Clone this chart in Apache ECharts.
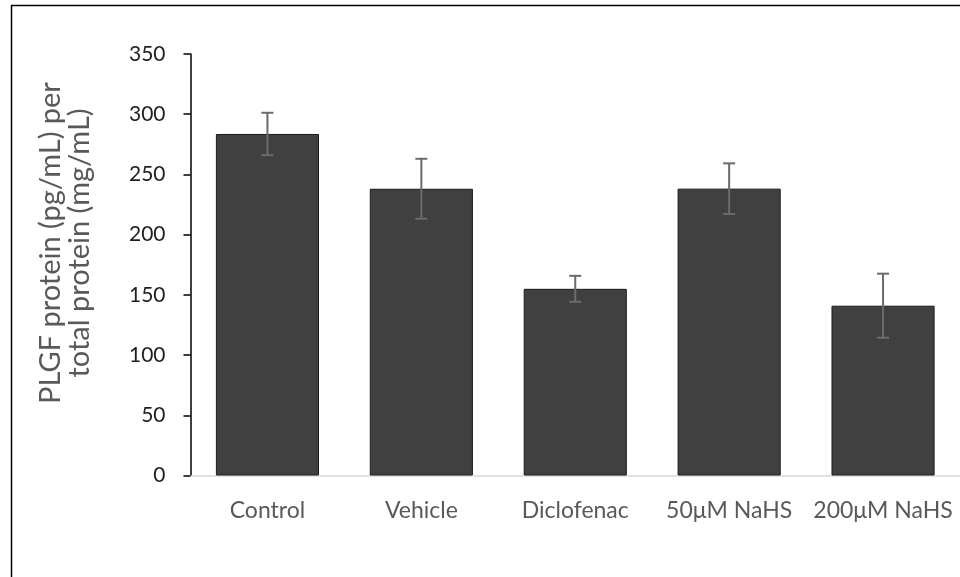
<!DOCTYPE html>
<html>
<head>
<meta charset="utf-8">
<script src="https://cdn.jsdelivr.net/npm/echarts@6/dist/echarts.min.js"></script>
<style>
  html, body { margin: 0; padding: 0; background: #ffffff; }
  #chart { width: 960px; height: 577px; }
</style>
</head>
<body>
<div id="chart"></div>
<script>
// PLGF protein normalised to total protein, mean ± error per treatment group
const categories = ['Control', 'Vehicle', 'Diclofenac', '50μM NaHS', '200μM NaHS'];
const means = [283.6, 238.1, 155.0, 238.2, 141.0];
const errors = [17.6, 24.9, 10.8, 21.0, 26.6];
const yTicks = { min: 0, max: 350, interval: 50 };

const FONT = 'Lato, "Open Sans", sans-serif';
const chart = echarts.init(document.getElementById('chart'), null, { renderer: 'canvas' });

const errorData = means.map((m, i) => [i, m - errors[i], m + errors[i]]);

chart.setOption({
  animation: false,
  backgroundColor: '#ffffff',
  grid: { left: 190.5, top: 54, right: -7.6, bottom: 101.5, containLabel: false },
  xAxis: {
    type: 'category',
    data: categories,
    axisLine: { show: true, lineStyle: { color: '#d9d9d9', width: 1.5 } },
    axisTick: { show: false },
    axisLabel: { color: '#595959', fontSize: 23, fontFamily: FONT, margin: 24, interval: 0, hideOverlap: false },
    splitLine: { show: false }
  },
  yAxis: {
    type: 'value',
    min: yTicks.min, max: yTicks.max, interval: yTicks.interval,
    axisLine: { show: true, lineStyle: { color: '#000000', width: 1.5 } },
    axisTick: { show: true, length: 7, lineStyle: { color: '#000000', width: 1.5 } },
    axisLabel: { color: '#1f1f1f', fontSize: 21, fontFamily: FONT, margin: 25 },
    splitLine: { show: false }
  },
  graphic: [
    {
      type: 'rect',
      shape: { x: 11.5, y: 5.5, width: 1200, height: 1200 },
      style: { fill: 'none', stroke: '#000000', lineWidth: 1.5 },
      silent: true
    },
    {
      type: 'text',
      x: 65, y: 243,
      rotation: Math.PI / 2,
      style: {
        text: 'PLGF protein (pg/mL) per\ntotal protein (mg/mL)',
        fill: '#595959',
        font: '29px ' + FONT,
        align: 'center',
        verticalAlign: 'middle',
        lineHeight: 29
      },
      silent: true
    }
  ],
  series: [
    {
      type: 'bar',
      data: means,
      barWidth: '67%',
      itemStyle: { color: '#404040', borderColor: '#1a1a1a', borderWidth: 1 }
    },
    {
      type: 'custom',
      data: errorData,
      z: 10,
      renderItem: function (params, api) {
        const x = api.value(0);
        const lo = api.coord([x, api.value(1)]);
        const hi = api.coord([x, api.value(2)]);
        const cap = 6;
        const style = { stroke: '#6b6b6b', lineWidth: 2, fill: 'none' };
        return {
          type: 'group',
          children: [
            { type: 'line', shape: { x1: hi[0], y1: hi[1], x2: lo[0], y2: lo[1] }, style: style },
            { type: 'line', shape: { x1: hi[0] - cap, y1: hi[1], x2: hi[0] + cap, y2: hi[1] }, style: style },
            { type: 'line', shape: { x1: lo[0] - cap, y1: lo[1], x2: lo[0] + cap, y2: lo[1] }, style: style }
          ]
        };
      }
    }
  ]
});
</script>
</body>
</html>
